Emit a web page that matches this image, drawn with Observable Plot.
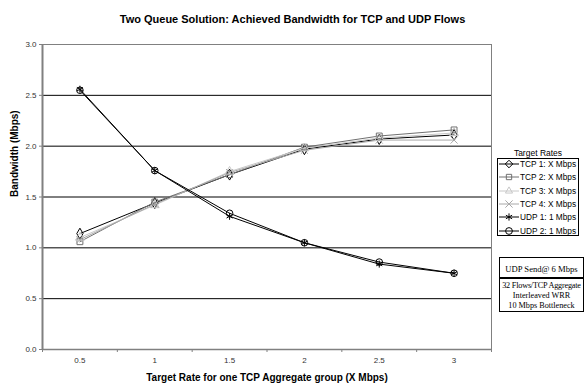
<!DOCTYPE html>
<html>
<head>
<meta charset="utf-8">
<script src="https://cdn.jsdelivr.net/npm/d3@7"></script>
<script src="https://cdn.jsdelivr.net/npm/@observablehq/plot@0.6"></script>
<style>
  html, body { margin: 0; padding: 0; background: #fff; }
  #wrap { position: relative; width: 585px; height: 386px; overflow: hidden; font-family: "Liberation Sans", Arial, sans-serif; }
  #wrap svg g[aria-label^="y-axis"], #wrap svg g[aria-label^="x-axis"] { color: #808080; }
  #wrap svg g[aria-label^="y-axis"] text, #wrap svg g[aria-label^="x-axis"] text { fill: #333; font-size: 8px; }
  #legend { position: absolute; left: 497px; top: 158px; width: 82px; height: 78px; border: 1px solid #000; box-sizing: border-box; background: #fff; }
  #legendTitle { position: absolute; left: 497px; width: 82px; top: 147px; text-align: center; font-size: 8.5px; line-height: 12px; color: #000; }
  .li { position: absolute; left: 0; height: 12px; width: 80px; font-size: 8.3px; line-height: 12px; color: #000; }
  .li svg { position: absolute; left: 1px; top: 0; }
  .li span { position: absolute; left: 22px; top: 0; white-space: nowrap; }
  #info1, #info2 { position: absolute; left: 499px; width: 85px; border: 1px solid #000; box-sizing: border-box; background: #fff; font-family: "Liberation Serif", "Times New Roman", serif; font-size: 8.6px; text-align: center; color: #000; white-space: nowrap; }
  #info1 { top: 257px; height: 21px; line-height: 21px; padding-top: 1px; }
  #info2 { top: 277px; height: 35px; line-height: 10px; padding-top: 2px; border-top: 2px solid #000; font-size: 8.2px; }
  #info2 .l1 { letter-spacing: -0.2px; }
</style>
</head>
<body>
<div id="wrap"></div>
<script>
// ---- data ----
const xValues = [0.5, 1, 1.5, 2, 2.5, 3];
const xLabels = ["0.5", "1", "1.5", "2", "2.5", "3"];
const seriesNames = ["TCP 1: X Mbps", "TCP 2: X Mbps", "TCP 3: X Mbps", "TCP 4: X Mbps", "UDP 1: 1 Mbps", "UDP 2: 1 Mbps"];
const tcp1 = [1.14, 1.44, 1.72, 1.97, 2.07, 2.11];
const tcp2 = [1.06, 1.45, 1.72, 1.99, 2.10, 2.16];
const tcp3 = [1.10, 1.42, 1.75, 1.98, 2.08, 2.13];
const tcp4 = [1.08, 1.43, 1.74, 1.96, 2.06, 2.06];
const udp1 = [2.56, 1.76, 1.31, 1.05, 0.84, 0.75];
const udp2 = [2.55, 1.76, 1.34, 1.05, 0.86, 0.75];
const yTicks = [0, 0.5, 1, 1.5, 2, 2.5, 3];
const gridValues = [0.5, 1, 1.5, 2, 2.5];
const xBounds = [0.25, 0.75, 1.25, 1.75, 2.25, 2.75, 3.25];
const seriesColors = ["#000000", "#707070", "#c8c8c8", "#a8a8a8", "#000000", "#000000"];
const seriesSymbols = ["diamond", "square", "triangle", "times", "asterisk", "circle"];
const titleText = "Two Queue Solution: Achieved Bandwidth for TCP and UDP Flows";
const xTitle = "Target Rate for one TCP Aggregate group (X Mbps)";
const yTitle = "Bandwidth (Mbps)";
const legendTitle = "Target Rates";
const infoLines1 = ["UDP Send@ 6 Mbps"];
const infoLines2 = ["32 Flows/TCP Aggregate", "Interleaved WRR", "10 Mbps Bottleneck"];

const allSeries = [tcp1, tcp2, tcp3, tcp4, udp1, udp2];
const data = [];
allSeries.forEach((vals, i) => vals.forEach((v, j) => data.push({series: seriesNames[i], x: xValues[j], y: v})));
const xLabelData = xValues.map((v, i) => ({x: v, label: xLabels[i]}));

const chart = Plot.plot({
  width: 585,
  height: 386,
  marginLeft: 42,
  marginRight: 94,
  marginTop: 44,
  marginBottom: 37,
  style: {fontFamily: "'Liberation Sans', Arial, sans-serif", background: "transparent", overflow: "visible", fontSize: "8px"},
  x: {domain: [0.25, 3.25], ticks: xBounds, tickSize: 3, tickFormat: () => "", label: null},
  y: {domain: [0, 3], ticks: yTicks, tickSize: 3, tickPadding: 3, tickFormat: d3.format(".1f"), label: null},
  color: {domain: seriesNames, range: seriesColors},
  symbol: {domain: seriesNames, range: seriesSymbols},
  marks: [
    Plot.ruleY(gridValues, {stroke: "#000", strokeWidth: 1}),
    Plot.frame({stroke: "#808080", strokeWidth: 1}),
    Plot.ruleX([0.25], {stroke: "#808080", strokeWidth: 2}),
    Plot.ruleY([0], {stroke: "#808080", strokeWidth: 1.5}),
    Plot.text(xLabelData, {x: "x", text: "label", frameAnchor: "bottom", dy: 13, fontSize: 8, fill: "#333"}),
    Plot.line(data, {x: "x", y: "y", z: "series", stroke: "series", strokeWidth: 1}),
    Plot.dot(data, {x: "x", y: "y", symbol: "series", stroke: "series", fill: "none", r: 3.3, strokeWidth: 1}),
    Plot.text([titleText], {frameAnchor: "top", dx: 25.5, dy: -29, fontSize: 11, fontWeight: "bold", fill: "#000"}),
    Plot.text([xTitle], {frameAnchor: "bottom", dy: 31, fontSize: 10, fontWeight: "bold", fill: "#000"}),
    Plot.text([yTitle], {frameAnchor: "left", dx: -27.5, rotate: -90, fontSize: 10, fontWeight: "bold", fill: "#000"})
  ]
});

const wrap = document.getElementById("wrap");
wrap.appendChild(chart);

// legend
const lt = document.createElement("div");
lt.id = "legendTitle"; lt.textContent = legendTitle; wrap.appendChild(lt);
const lg = document.createElement("div");
lg.id = "legend"; wrap.appendChild(lg);
const symMap = {diamond: d3.symbolDiamond2, square: d3.symbolSquare2, triangle: d3.symbolTriangle2, times: d3.symbolTimes, asterisk: d3.symbolAsterisk, circle: d3.symbolCircle};
seriesNames.forEach((name, i) => {
  const row = document.createElement("div");
  row.className = "li";
  row.style.top = (-1 + i * 13.3) + "px";
  const path = d3.symbol(symMap[seriesSymbols[i]], 36)();
  row.innerHTML = `<svg width="21" height="12"><line x1="0" x2="20" y1="6" y2="6" stroke="${seriesColors[i]}" stroke-width="1"/><path transform="translate(10,6)" d="${path}" fill="none" stroke="${seriesColors[i]}" stroke-width="1"/></svg><span>${name}</span>`;
  lg.appendChild(row);
});

// info boxes
const i1 = document.createElement("div"); i1.id = "info1"; i1.innerHTML = infoLines1.join("<br>"); wrap.appendChild(i1);
const i2 = document.createElement("div"); i2.id = "info2";
i2.innerHTML = infoLines2.map((t, k) => `<div class="l${k + 1}">${t}</div>`).join("");
wrap.appendChild(i2);
</script>
</body>
</html>
